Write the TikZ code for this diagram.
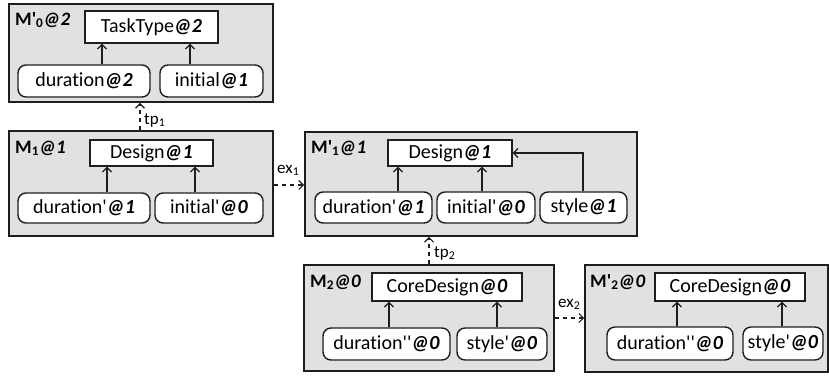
\documentclass[tikz,border=0pt]{standalone}
\usepackage{fontspec}
\setmainfont{Carlito}[Ligatures={NoCommon}]
\usetikzlibrary{arrows.meta}
\definecolor{boxgray}{HTML}{E1E1E1}
\definecolor{edgecol}{HTML}{1E1E1E}
\newcommand\lvl[1]{\textbf{\textit{@#1}}}
\newcommand\pq{\textquotesingle}
\newcommand\rbox[7]{\node[#2, minimum width={(#5-#3)*1pt}, minimum height={(#6-#4)*1pt}] (#1) at ({(#3+#5)/2},{(#4+#6)/2}) {#7};}
\tikzset{
  model/.style={draw=edgecol, fill=boxgray, line width=1.6pt, inner sep=0pt},
  cls/.style={draw=edgecol, fill=white, line width=1.4pt, inner sep=0pt, font=\fontsize{20}{24}\selectfont},
  attr/.style={cls, rounded corners=8pt},
  mtitle/.style={anchor=base west, inner sep=0pt, font=\bfseries\fontsize{19}{22}\selectfont},
  rel/.style={draw=edgecol, line width=1.2pt, -{Straight Barb[length=4.5pt,width=9pt]}},
  map/.style={rel, dash pattern=on 4.5pt off 3.5pt},
  mlabel/.style={anchor=base west, inner sep=0pt, font=\fontsize{17}{20}\selectfont}
}
\begin{document}
\begin{tikzpicture}[x=1pt,y=-1pt]
\useasboundingbox (0,0) rectangle (829,376);
% M'0
\rbox{Mp0}{model}{9}{4}{273}{102}{}
\node[mtitle] (tMp0) at (15,25) {M\pq\textsubscript{0}\lvl{2}};
\rbox{tasktype}{cls}{85}{11}{218}{43}{TaskType\lvl{2}}
\rbox{dur0}{attr}{18}{65}{150}{97}{duration\lvl{2}}
\rbox{ini0}{attr}{160}{65}{263}{97}{initial\lvl{1}}
\draw[rel] (dur0.north -| 102,0) -- (tasktype.south -| 102,0);
\draw[rel] (ini0.north -| 190,0) -- (tasktype.south -| 190,0);
% M1
\rbox{M1}{model}{9}{131}{273}{236}{}
\node[mtitle] (tM1) at (15,153) {M\textsubscript{1}\lvl{1}};
\rbox{design1}{cls}{90}{140}{213}{166}{Design\lvl{1}}
\rbox{dur1}{attr}{18}{193}{150}{223}{duration\pq\lvl{1}}
\rbox{ini1}{attr}{155}{193}{263}{223}{initial\pq\lvl{0}}
\draw[rel] (dur1.north -| 107,0) -- (design1.south -| 107,0);
\draw[rel] (ini1.north -| 195,0) -- (design1.south -| 195,0);
% M'1
\rbox{Mp1}{model}{305}{132}{637}{236}{}
\node[mtitle] (tMp1) at (311,153) {M\pq\textsubscript{1}\lvl{1}};
\rbox{design2}{cls}{388}{140}{512}{166}{Design\lvl{1}}
\rbox{dur2}{attr}{315}{192}{432}{223}{duration\pq\lvl{1}}
\rbox{ini2}{attr}{437}{192}{535}{223}{initial\pq\lvl{0}}
\rbox{sty2}{attr}{540}{192}{627}{223}{style\lvl{1}}
\draw[rel] (dur2.north -| 398,0) -- (design2.south -| 398,0);
\draw[rel] (ini2.north -| 482,0) -- (design2.south -| 482,0);
\draw[rel] (sty2.north -| 583,0) |- (design2.east);
% M2
\rbox{M2}{model}{304}{265}{554}{371}{}
\node[mtitle] (tM2) at (310,287) {M\textsubscript{2}\lvl{0}};
\rbox{core1}{cls}{372}{273}{522}{301}{CoreDesign\lvl{0}}
\rbox{dur3}{attr}{323}{328}{450}{360}{duration\pq\pq\lvl{0}}
\rbox{sty3}{attr}{457}{328}{547}{360}{style\pq\lvl{0}}
\draw[rel] (dur3.north -| 389,0) -- (core1.south -| 389,0);
\draw[rel] (sty3.north -| 497,0) -- (core1.south -| 497,0);
% M'2
\rbox{Mp2}{model}{585}{265}{828}{372}{}
\node[mtitle] (tMp2) at (590,287) {M\pq\textsubscript{2}\lvl{0}};
\rbox{core2}{cls}{655}{273}{805}{301}{CoreDesign\lvl{0}}
\rbox{dur4}{attr}{607}{327}{733}{360}{duration\pq\pq\lvl{0}}
\rbox{sty4}{attr}{743}{327}{823}{360}{style\pq\lvl{0}}
\draw[rel] (dur4.north -| 677,0) -- (core2.south -| 677,0);
\draw[rel] (sty4.north -| 782,0) -- (core2.south -| 782,0);
% mappings
\draw[map] (M1.north -| 140,0) -- (Mp0.south -| 140,0);
\node[mlabel] (ltp1) at (144,124) {tp\textsubscript{1}};
\draw[map] (M1.east |- 0,185) -- (Mp1.west |- 0,185);
\node[mlabel] (lex1) at (277,173) {ex\textsubscript{1}};
\draw[map] (M2.north -| 429,0) -- (Mp1.south -| 429,0);
\node[mlabel] (ltp2) at (434,257) {tp\textsubscript{2}};
\draw[map] (M2.east |- 0,318) -- (Mp2.west |- 0,318);
\node[mlabel] (lex2) at (558,307) {ex\textsubscript{2}};
\end{tikzpicture}
\end{document}
